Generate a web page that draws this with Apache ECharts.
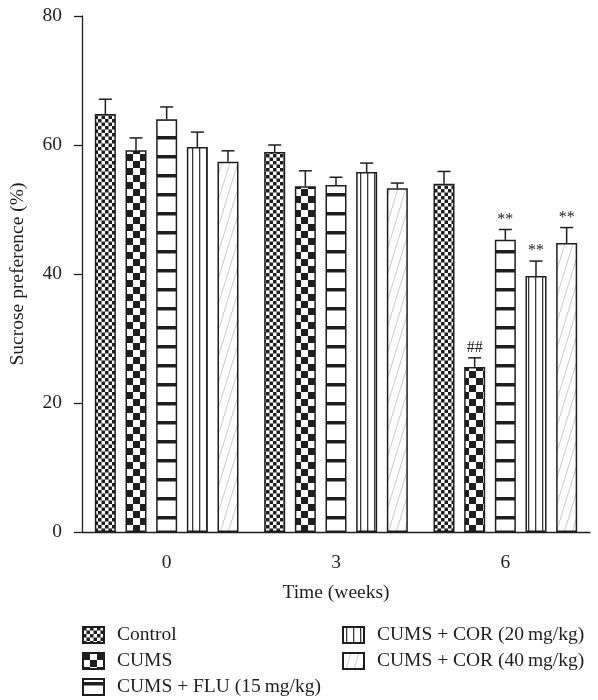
<!DOCTYPE html>
<html>
<head>
<meta charset="utf-8">
<script src="https://cdn.jsdelivr.net/npm/echarts@6/dist/echarts.min.js"></script>
<style>
html,body{margin:0;padding:0;background:#fff;}
#chart{width:598px;height:700px;}
</style>
</head>
<body>
<div id="chart"></div>
<script>
// ---- data ----
const categories = ['0', '3', '6'];
const seriesNames = ['Control', 'CUMS', 'CUMS + FLU (15\u2009mg/kg)', 'CUMS + COR (20\u2009mg/kg)', 'CUMS + COR (40\u2009mg/kg)'];
const controlMean = [64.8, 58.9, 54.0];
const controlErr  = [2.3, 1.1, 1.9];
const cumsMean    = [59.2, 53.6, 25.6];
const cumsErr     = [1.9, 2.4, 1.4];
const fluMean     = [64.0, 53.8, 45.3];
const fluErr      = [1.9, 1.2, 1.6];
const cor20Mean   = [59.7, 55.8, 39.7];
const cor20Err    = [2.3, 1.4, 2.3];
const cor40Mean   = [57.4, 53.3, 44.8];
const cor40Err    = [1.7, 0.8, 2.4];
const controlSig  = ['', '', ''];
const cumsSig     = ['', '', '##'];
const fluSig      = ['', '', '**'];
const cor20Sig    = ['', '', '**'];
const cor40Sig    = ['', '', '**'];
const yTicks = { min: 0, max: 80, interval: 20 };

const means = [controlMean, cumsMean, fluMean, cor20Mean, cor40Mean];
const errs = [controlErr, cumsErr, fluErr, cor20Err, cor40Err];
const sigs = [controlSig, cumsSig, fluSig, cor20Sig, cor40Sig];

// ---- patterns ----
const INK = '#1e1e1e';
function mk(w, h, draw) {
  const c = document.createElement('canvas');
  c.width = w; c.height = h;
  const ctx = c.getContext('2d');
  ctx.fillStyle = '#fff';
  ctx.fillRect(0, 0, w, h);
  draw(ctx, w, h);
  return c;
}
function checker(cell) {
  return mk(cell * 2, cell * 2, (ctx) => {
    ctx.fillStyle = INK;
    ctx.fillRect(0, 0, cell, cell);
    ctx.fillRect(cell, cell, cell, cell);
  });
}
const pControl = { image: checker(7), repeat: 'repeat', scaleX: 0.5, scaleY: 0.5 };
const pCums = { image: checker(7), repeat: 'repeat' };
const pFlu = { image: mk(19, 19, (ctx) => { ctx.fillStyle = INK; ctx.fillRect(0, 3, 19, 3.5); }), repeat: 'repeat' };
const pCor20 = { image: mk(7, 7, (ctx) => { ctx.fillStyle = '#3a3a3a'; ctx.fillRect(3, 0, 1.3, 7); }), repeat: 'repeat' };
const pCor40 = { image: mk(8, 26, (ctx, w, h) => {
  ctx.strokeStyle = '#c4c4c4'; ctx.lineWidth = 0.9;
  for (const dx of [-8, 0, 8]) { ctx.beginPath(); ctx.moveTo(dx, h); ctx.lineTo(dx + 8, 0); ctx.stroke(); }
}), repeat: 'repeat' };
const patterns = [pControl, pCums, pFlu, pCor20, pCor40];

const FONT = 'Liberation Serif';
const FS = 19.5;
const BAR_W = 21;
const BAR_GAP = 0.46;

const series = [];
seriesNames.forEach((name, i) => {
  series.push({
    type: 'bar',
    name: name,
    data: means[i],
    barWidth: BAR_W,
    barGap: (BAR_GAP * 100) + '%',
    itemStyle: { color: patterns[i], borderColor: INK, borderWidth: 1.5 },
    emphasis: { disabled: true },
    z: 2
  });
});
seriesNames.forEach((name, i) => {
  series.push({
    type: 'custom',
    name: 'err' + i,
    z: 3,
    silent: true,
    data: categories.map((c, k) => [k, means[i][k], errs[i][k]]),
    renderItem: function (params, api) {
      const k = api.value(0), m = api.value(1), e = api.value(2);
      const off = (i - 2) * BAR_W * (1 + BAR_GAP);
      const p0 = api.coord([k, m]);
      const p1 = api.coord([k, m + e]);
      const x = p0[0] + off;
      const children = [
        { type: 'line', shape: { x1: x, y1: p0[1], x2: x, y2: p1[1] }, style: { stroke: INK, lineWidth: 1.5 } },
        { type: 'line', shape: { x1: x - 6.5, y1: p1[1], x2: x + 6.5, y2: p1[1] }, style: { stroke: INK, lineWidth: 1.5 } }
      ];
      const s = sigs[i][params.dataIndex];
      if (s) {
        children.push({ type: 'text', style: { text: s, x: x, y: p1[1] - 2, align: 'center', verticalAlign: 'bottom', font: '16px "' + FONT + '"', fill: INK } });
      }
      return { type: 'group', children: children };
    }
  });
});

const chart = echarts.init(document.getElementById('chart'), null, { renderer: 'canvas' });
const legendCommon = {
  orient: 'vertical',
  itemWidth: 21,
  itemHeight: 16,
  itemGap: 6,
  icon: 'rect',
  selectedMode: false,
  height: 100,
  textStyle: { fontFamily: FONT, fontSize: FS, lineHeight: 20, color: INK, padding: [0, 0, 0, 8] },
  padding: 0
};
chart.setOption({
  animation: false,
  backgroundColor: '#fff',
  grid: { left: 80, right: 8, top: 16, bottom: 168, containLabel: false },
  legend: [
    Object.assign({}, legendCommon, { left: 82, top: 625, data: seriesNames.slice(0, 3) }),
    Object.assign({}, legendCommon, { left: 342, top: 625, data: seriesNames.slice(3) })
  ],
  xAxis: {
    type: 'category',
    data: categories,
    name: 'Time (weeks)',
    nameLocation: 'middle',
    nameGap: 51,
    nameTextStyle: { fontFamily: FONT, fontSize: FS, color: INK },
    axisLine: { lineStyle: { color: INK, width: 1.3 } },
    axisTick: { alignWithLabel: true, length: 6, lineStyle: { color: INK, width: 1.3 } },
    axisLabel: { fontFamily: FONT, fontSize: FS, color: INK, margin: 21 }
  },
  yAxis: {
    type: 'value',
    min: yTicks.min, max: yTicks.max, interval: yTicks.interval,
    name: 'Sucrose preference (%)',
    nameLocation: 'middle',
    nameGap: 54,
    nameTextStyle: { fontFamily: FONT, fontSize: FS, color: INK },
    splitLine: { show: false },
    axisLine: { show: true, lineStyle: { color: INK, width: 1.3 } },
    axisTick: { show: true, length: 8, lineStyle: { color: INK, width: 1.3 } },
    axisLabel: { fontFamily: FONT, fontSize: FS, color: INK, margin: 20 }
  },
  series: series
});
</script>
</body>
</html>
